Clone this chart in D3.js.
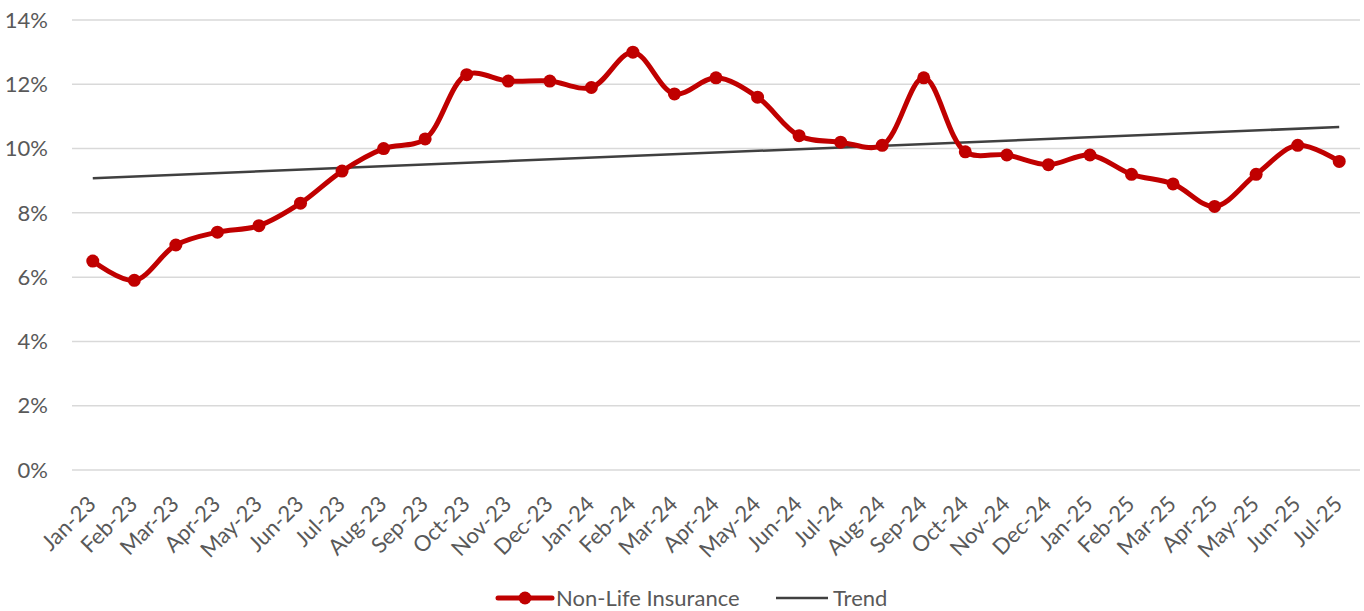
<!DOCTYPE html>
<html>
<head>
<meta charset="utf-8">
<script src="https://cdn.jsdelivr.net/npm/d3@7"></script>
<style>
  body { margin: 0; background: #fff; }
  text { font-family: Lato, "Open Sans", sans-serif; fill: #595959; }
</style>
</head>
<body>
<svg id="chart" width="1364" height="611"></svg>
<script>
var months = ["Jan-23","Feb-23","Mar-23","Apr-23","May-23","Jun-23","Jul-23","Aug-23","Sep-23","Oct-23","Nov-23","Dec-23",
  "Jan-24","Feb-24","Mar-24","Apr-24","May-24","Jun-24","Jul-24","Aug-24","Sep-24","Oct-24","Nov-24","Dec-24",
  "Jan-25","Feb-25","Mar-25","Apr-25","May-25","Jun-25","Jul-25"];
var nonLife = [6.5,5.9,7.0,7.4,7.6,8.3,9.3,10.0,10.3,12.3,12.1,12.1,
  11.9,13.0,11.7,12.2,11.6,10.4,10.2,10.1,12.2,9.9,9.8,9.5,
  9.8,9.2,8.9,8.2,9.2,10.1,9.6];
// trend line end values
var trendEnds = [9.08, 10.67];
var yTicks = [0,2,4,6,8,10,12,14];

var svg = d3.select("#chart"),
  margin = {top: 20, right: 4, bottom: 141, left: 72},
  width = +svg.attr("width") - margin.left - margin.right,
  height = +svg.attr("height") - margin.top - margin.bottom;

var x = d3.scaleBand().domain(months).range([0, width]),
  y = d3.scaleLinear().domain([0, 14]).range([height, 0]);

var g = svg.append("g")
  .attr("transform", "translate(" + margin.left + "," + margin.top + ")");

function cx(m) { return x(m) + x.bandwidth() / 2; }

// gridlines
g.selectAll(".grid").data(yTicks).enter().append("line")
  .attr("x1", 0).attr("x2", width)
  .attr("y1", function(d) { return y(d); })
  .attr("y2", function(d) { return y(d); })
  .attr("stroke", "#d9d9d9").attr("stroke-width", 1.5);

// y labels
g.selectAll(".ylab").data(yTicks).enter().append("text")
  .attr("x", -24).attr("y", function(d) { return y(d); })
  .attr("dy", "0.35em").attr("text-anchor", "end")
  .style("font-size", "22px")
  .text(function(d) { return d + "%"; });

// x labels
g.selectAll(".xlab").data(months).enter().append("text")
  .attr("text-anchor", "end")
  .attr("transform", function(d) { return "translate(" + (cx(d) - 1) + "," + (height + 30) + ") rotate(-45)"; })
  .attr("dy", "0.35em")
  .style("font-size", "22px")
  .text(function(d) { return d; });

// trend
g.append("line")
  .attr("x1", cx(months[0])).attr("y1", y(trendEnds[0]))
  .attr("x2", cx(months[months.length - 1])).attr("y2", y(trendEnds[1]))
  .attr("stroke", "#404040").attr("stroke-width", 2.5);

// series
var line = d3.line()
  .curve(d3.curveCatmullRom.alpha(0.5))
  .x(function(d, i) { return cx(months[i]); })
  .y(function(d) { return y(d); });

g.append("path").datum(nonLife)
  .attr("d", line)
  .attr("fill", "none")
  .attr("stroke", "#c00000").attr("stroke-width", 5)
  .attr("stroke-linejoin", "round");

g.selectAll(".dot").data(nonLife).enter().append("circle")
  .attr("cx", function(d, i) { return cx(months[i]); })
  .attr("cy", function(d) { return y(d); })
  .attr("r", 6.5)
  .attr("fill", "#c00000");

// legend
var leg = svg.append("g").attr("transform", "translate(0,598)");
leg.append("line").attr("x1", 498).attr("x2", 552).attr("y1", 0).attr("y2", 0)
  .attr("stroke", "#c00000").attr("stroke-width", 5).attr("stroke-linecap", "round");
leg.append("circle").attr("cx", 525).attr("cy", 0).attr("r", 6.5).attr("fill", "#c00000");
leg.append("text").attr("x", 556).attr("y", 0).attr("dy", "0.35em")
  .style("font-size", "22px").text("Non-Life Insurance");
leg.append("line").attr("x1", 776).attr("x2", 828).attr("y1", 0).attr("y2", 0)
  .attr("stroke", "#404040").attr("stroke-width", 2.5);
leg.append("text").attr("x", 833).attr("y", 0).attr("dy", "0.35em")
  .style("font-size", "22px").text("Trend");
</script>
</body>
</html>
